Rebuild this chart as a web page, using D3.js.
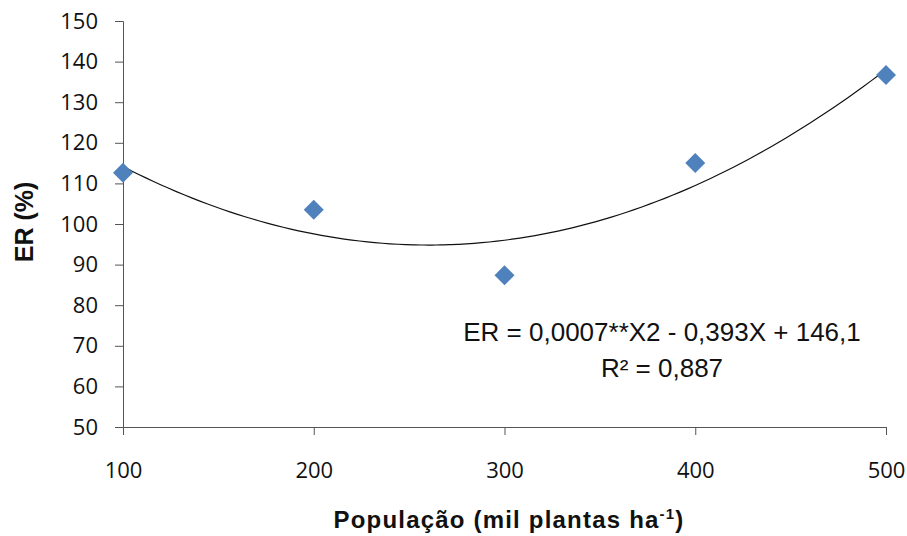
<!DOCTYPE html>
<html lang="pt">
<head>
<meta charset="UTF-8">
<title>ER x População</title>
<script src="https://d3js.org/d3.v7.min.js"></script>
<style>
  * { margin: 0; padding: 0; }
  body { background: #fff; }
  svg text { font-family: "Liberation Sans", Arial, sans-serif; fill: #111; }
  .tick text { font-family: "Open Sans", "Liberation Sans", sans-serif; }
</style>
</head>
<body>
<script>
// populacao (mil plantas/ha) e ER (%)
var populacao = [100, 200, 300, 400, 500];
var er = [112.6, 103.5, 87.4, 115.0, 136.7];
var yTicks = [50, 60, 70, 80, 90, 100, 110, 120, 130, 140, 150];
var xTicks = [100, 200, 300, 400, 500];
var equacao = "ER = 0,0007**X2 - 0,393X + 146,1";
var r2 = "R² = 0,887";

var width = 907, height = 536;
var margin = {left: 123, right: 21, top: 21, bottom: 109};

var svg = d3.select("body").append("svg")
    .attr("width", width)
    .attr("height", height);

var x = d3.scaleLinear().domain([100, 500]).range([margin.left, width - margin.right]);
var y = d3.scaleLinear().domain([50, 150]).range([height - margin.bottom, margin.top]);

// y axis
var yAxis = svg.append("g")
    .attr("transform", "translate(" + margin.left + ",0)")
    .call(d3.axisLeft(y).tickValues(yTicks).tickSize(8).tickPadding(17));
// x axis
var xAxis = svg.append("g")
    .attr("transform", "translate(0," + y(50) + ")")
    .call(d3.axisBottom(x).tickValues(xTicks).tickSize(8).tickPadding(27));

[yAxis, xAxis].forEach(function(a) {
    a.select(".domain").attr("stroke", "#555");
    a.selectAll(".tick line").attr("stroke", "#555");
    a.selectAll(".tick text")
        .style("font-size", "22px")
        .attr("fill", "#222");
});

// polynomial trend line (least squares, 2nd order) from the points
function fitQuad(xs, ys) {
    var n = xs.length, s = [0, 0, 0, 0, 0], t = [0, 0, 0];
    for (var i = 0; i < n; i++) {
        var p = 1;
        for (var k = 0; k < 5; k++) { s[k] += p; if (k < 3) t[k] += p * ys[i]; p *= xs[i]; }
    }
    var A = [[s[0], s[1], s[2], t[0]], [s[1], s[2], s[3], t[1]], [s[2], s[3], s[4], t[2]]];
    for (var c = 0; c < 3; c++) {
        for (var r = c + 1; r < 3; r++) {
            var f = A[r][c] / A[c][c];
            for (var j = c; j < 4; j++) A[r][j] -= f * A[c][j];
        }
    }
    var b = [0, 0, 0];
    for (var row = 2; row >= 0; row--) {
        var v = A[row][3];
        for (var j2 = row + 1; j2 < 3; j2++) v -= A[row][j2] * b[j2];
        b[row] = v / A[row][row];
    }
    return b;
}
var coef = fitQuad(populacao, er);
var curveX = d3.range(100, 500.1, 4);
var line = d3.line()
    .x(function(d) { return x(d); })
    .y(function(d) { return y(coef[0] + coef[1] * d + coef[2] * d * d); })
    .curve(d3.curveBasis);
svg.append("path")
    .datum(curveX)
    .attr("d", line)
    .attr("fill", "none")
    .attr("stroke", "#111")
    .attr("stroke-width", 1.2);

// markers
svg.selectAll(".pt")
    .data(populacao)
    .enter()
    .append("path")
    .attr("class", "pt")
    .attr("d", d3.symbol().type(d3.symbolSquare).size(200))
    .attr("transform", function(d, i) { return "translate(" + x(d) + "," + y(er[i]) + ") rotate(45)"; })
    .attr("fill", "#4F81BD");

// equation
svg.append("text")
    .attr("x", 662).attr("y", 341)
    .attr("text-anchor", "middle")
    .style("font-size", "26px")
    .text(equacao);
svg.append("text")
    .attr("x", 662).attr("y", 377)
    .attr("text-anchor", "middle")
    .style("font-size", "26px")
    .text(r2);

// axis titles
svg.append("text")
    .attr("transform", "translate(33,222) rotate(-90)")
    .attr("text-anchor", "middle")
    .style("font-size", "25px")
    .style("font-weight", "bold")
    .text("ER (%)");

var xt = svg.append("text")
    .attr("x", 509).attr("y", 528)
    .attr("text-anchor", "middle")
    .style("font-size", "24px")
    .style("font-weight", "bold")
    .style("letter-spacing", "1.2px");
xt.append("tspan").text("População (mil plantas ha");
xt.append("tspan").attr("dy", -9).style("font-size", "15px").text("-1");
xt.append("tspan").attr("dy", 9).text(")");
</script>
</body>
</html>
